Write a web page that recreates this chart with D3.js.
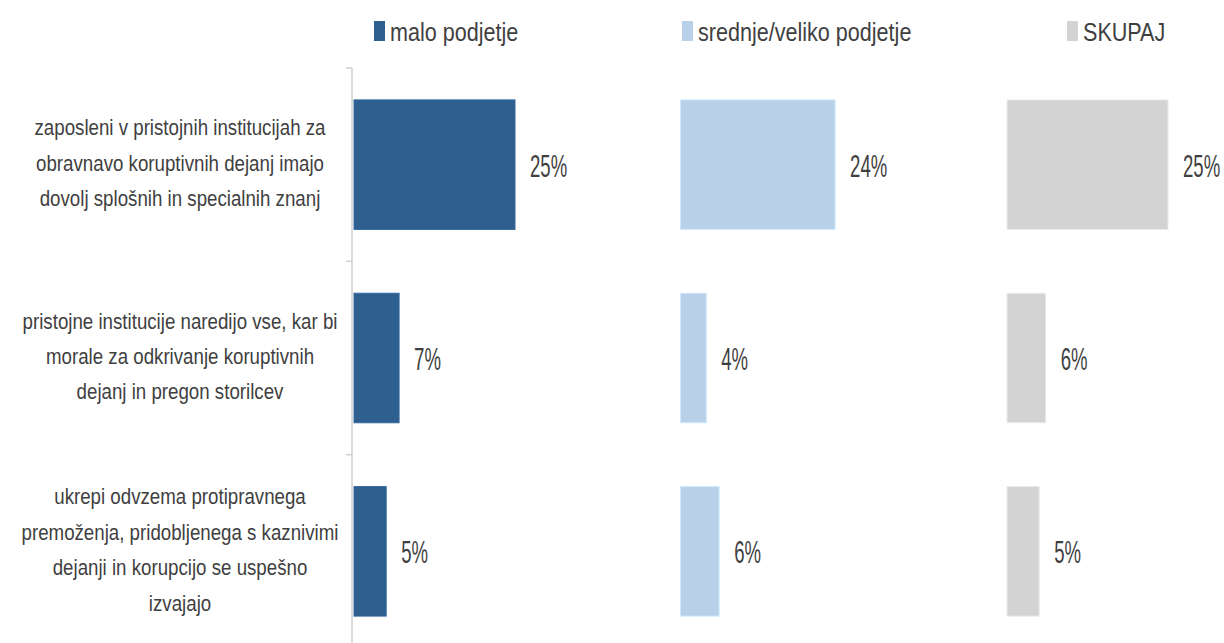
<!DOCTYPE html>
<html>
<head>
<meta charset="utf-8">
<script src="https://cdn.jsdelivr.net/npm/d3@7"></script>
<style>
  body { margin: 0; background: #fff; }
  text { font-family: "Liberation Sans", Arial, sans-serif; fill: #3F3F3F; }
</style>
</head>
<body>
<script>
// categories (one array of lines per label)
var categories = [
    ["zaposleni v pristojnih institucijah za", "obravnavo koruptivnih dejanj imajo", "dovolj splošnih in specialnih znanj"],
    ["pristojne institucije naredijo vse, kar bi", "morale za odkrivanje koruptivnih", "dejanj in pregon storilcev"],
    ["ukrepi odvzema protipravnega", "premoženja, pridobljenega s kaznivimi", "dejanji in korupcijo se uspešno", "izvajajo"]
];
var seriesNames = ["malo podjetje", "srednje/veliko podjetje", "SKUPAJ"];
var maloValues = [25, 7, 5];
var srednjeValues = [24, 4, 6];
var skupajValues = [25, 6, 5];
var seriesColors = ["#2F5F8F", "#B9D1E8", "#D3D3D3"];

var width = 1224;
var height = 643;

var svg = d3.select("body")
    .append("svg")
    .attr("width", width)
    .attr("height", height);

var series = [maloValues, srednjeValues, skupajValues];
var catIdx = d3.range(categories.length);

var y = d3.scaleBand()
    .domain(catIdx)
    .range([68, 648])
    .paddingInner(0.33)
    .paddingOuter(0.165);

// one panel per series, all sharing the same value scale
var panel = d3.scaleBand()
    .domain(d3.range(seriesNames.length))
    .range([354, 354 + 326.5 * 3]);

var x = d3.scaleLinear()
    .domain([0, 50])
    .range([0, 322]);

// squeezed text, like the narrow font of the original
function narrow(sel, tx, ty, sx) {
    return sel.attr("transform", "translate(" + tx + "," + ty + ") scale(" + sx + ",1)");
}

// legend
var legend = svg.append("g").attr("class", "legend");
var legendX = [374, 682, 1067];
seriesNames.forEach(function(name, i) {
    var lg = legend.append("g").attr("transform", "translate(" + legendX[i] + ",0)");
    lg.append("rect")
        .attr("x", 0).attr("y", 21)
        .attr("width", 11).attr("height", 20)
        .attr("fill", seriesColors[i]);
    narrow(lg.append("text"), 16, 41, 0.83)
        .attr("font-size", 26)
        .text(name);
});

// axis line with ticks at band boundaries
var axisX = 352;
svg.append("line")
    .attr("x1", axisX).attr("x2", axisX)
    .attr("y1", y.range()[0]).attr("y2", height)
    .attr("stroke", "#D0D0D0").attr("stroke-width", 1.5);
d3.range(categories.length + 1).forEach(function(i) {
    var ty = y.range()[0] + i * y.step();
    svg.append("line")
        .attr("x1", axisX - 6).attr("x2", axisX)
        .attr("y1", ty).attr("y2", ty)
        .attr("stroke", "#D0D0D0").attr("stroke-width", 1.5);
});

// category labels
categories.forEach(function(lines, i) {
    var cy = y(i) + y.bandwidth() / 2;
    var lh = 35.5;
    var t = narrow(svg.append("text"), 180, cy + 6, 0.87)
        .attr("text-anchor", "middle")
        .attr("font-size", 21.5);
    lines.forEach(function(line, j) {
        t.append("tspan")
            .attr("x", 0)
            .attr("y", (j - (lines.length - 1) / 2) * lh)
            .text(line);
    });
});

// bars
series.forEach(function(vals, s) {
    var g = svg.append("g")
        .attr("transform", "translate(" + panel(s) + ",0)");
    g.selectAll("rect")
        .data(vals)
        .enter().append("rect")
        .attr("x", 0)
        .attr("y", function(d, i) { return y(i); })
        .attr("width", function(d) { return x(d); })
        .attr("height", y.bandwidth())
        .attr("fill", seriesColors[s])
        .attr("stroke", d3.color(seriesColors[s]).brighter(0.3))
        .attr("stroke-width", 1);
    g.selectAll("text")
        .data(vals)
        .enter().append("text")
        .each(function(d, i) {
            narrow(d3.select(this), x(d) + 15, y(i) + y.bandwidth() / 2 + 12, 0.6);
        })
        .attr("font-size", 31)
        .text(function(d) { return d + "%"; });
});
</script>
</body>
</html>
